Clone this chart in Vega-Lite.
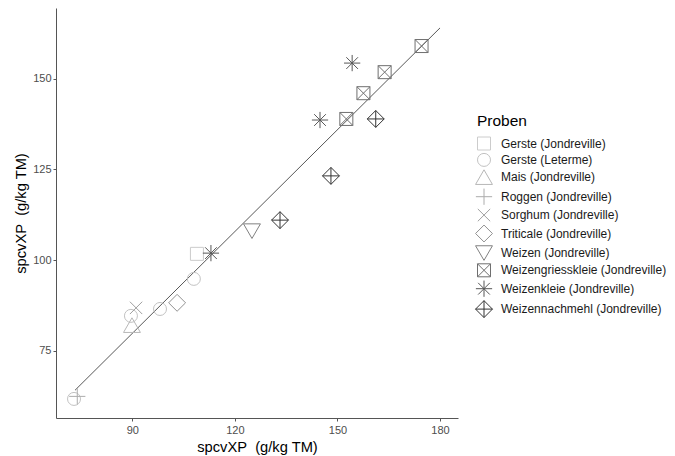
{
  "$schema": "https://vega.github.io/schema/vega-lite/v6.json",
  "width": 402,
  "height": 410,
  "autosize": {"type": "none"},
  "padding": {"left": 56, "top": 8, "right": 217, "bottom": 38},
  "background": "white",
  "config": {
    "view": {"stroke": null},
    "font": "Liberation Sans",
    "axis": {
      "grid": false,
      "domainColor": "#555555",
      "domainWidth": 1,
      "tickColor": "#555555",
      "tickSize": 3,
      "labelPadding": 2,
      "labelFontSize": 11,
      "labelColor": "#4d4d4d",
      "labelFont": "Liberation Sans",
      "titleFont": "Liberation Sans",
      "titleFontSize": 14.7,
      "titleFontWeight": "normal",
      "titleColor": "#000000"
    },
    "legend": {
      "titleFont": "Liberation Sans",
      "labelFont": "Liberation Sans"
    }
  },
  "datasets": {
    "pts": [
      {"x": 108.9, "y": 101.7, "Proben": "Gerste (Jondreville)"},
      {"x": 72.95, "y": 61.7, "Proben": "Gerste (Leterme)"},
      {"x": 89.6, "y": 84.6, "Proben": "Gerste (Leterme)"},
      {"x": 98.1, "y": 86.5, "Proben": "Gerste (Leterme)"},
      {"x": 108.0, "y": 94.8, "Proben": "Gerste (Leterme)"},
      {"x": 89.9, "y": 82.0, "Proben": "Mais (Jondreville)"},
      {"x": 73.9, "y": 62.4, "Proben": "Roggen (Jondreville)"},
      {"x": 91.1, "y": 86.8, "Proben": "Sorghum (Jondreville)"},
      {"x": 103.1, "y": 88.2, "Proben": "Triticale (Jondreville)"},
      {"x": 125.0, "y": 108.0, "Proben": "Weizen (Jondreville)"},
      {"x": 152.6, "y": 138.9, "Proben": "Weizengriesskleie (Jondreville)"},
      {"x": 157.6, "y": 146.0, "Proben": "Weizengriesskleie (Jondreville)"},
      {"x": 163.8, "y": 151.8, "Proben": "Weizengriesskleie (Jondreville)"},
      {"x": 174.6, "y": 159.0, "Proben": "Weizengriesskleie (Jondreville)"},
      {"x": 113.0, "y": 101.9, "Proben": "Weizenkleie (Jondreville)"},
      {"x": 144.9, "y": 138.6, "Proben": "Weizenkleie (Jondreville)"},
      {"x": 154.3, "y": 154.3, "Proben": "Weizenkleie (Jondreville)"},
      {"x": 133.2, "y": 111.0, "Proben": "Weizennachmehl (Jondreville)"},
      {"x": 148.1, "y": 123.2, "Proben": "Weizennachmehl (Jondreville)"},
      {"x": 161.2, "y": 138.9, "Proben": "Weizennachmehl (Jondreville)"}
    ],
    "fit": [
      {"x": 73.25, "y": 64.1},
      {"x": 180.0, "y": 164.0}
    ]
  },
  "layer": [
    {
      "data": {"name": "fit"},
      "mark": {"type": "line", "color": "#444444", "strokeWidth": 0.9},
      "encoding": {
        "x": {"field": "x", "type": "quantitative"},
        "y": {"field": "y", "type": "quantitative"}
      }
    },
    {
      "data": {"name": "pts"},
      "mark": {"type": "point", "filled": false, "strokeWidth": 1, "size": 169, "opacity": 1},
      "encoding": {
        "x": {
          "field": "x",
          "type": "quantitative",
          "scale": {"domain": [67.68, 185.26], "nice": false, "zero": false},
          "axis": {"values": [90, 120, 150, 180], "title": "spcvXP\u00a0 (g/kg TM)", "titlePadding": 4, "labelPadding": 3}
        },
        "y": {
          "field": "y",
          "type": "quantitative",
          "scale": {"domain": [56.44, 169.49], "nice": false, "zero": false},
          "axis": {"values": [75, 100, 125, 150], "title": "spcvXP\u00a0 (g/kg TM)", "titlePadding": 4}
        },
        "shape": {
          "field": "Proben",
          "type": "nominal",
          "scale": {
            "domain": ["Gerste (Jondreville)", "Gerste (Leterme)", "Mais (Jondreville)", "Roggen (Jondreville)", "Sorghum (Jondreville)", "Triticale (Jondreville)", "Weizen (Jondreville)", "Weizengriesskleie (Jondreville)", "Weizenkleie (Jondreville)", "Weizennachmehl (Jondreville)"],
            "range": [
              "square",
              "circle",
              "M0,-1.15L1.3,1.1L-1.3,1.1Z",
              "M-1.25,0H1.25M0,-1.25V1.25",
              "M-0.95,-0.95L0.95,0.95M-0.95,0.95L0.95,-0.95",
              "M0,-1.3L1.3,0L0,1.3L-1.3,0Z",
              "M0,1.15L1.3,-1.1L-1.3,-1.1Z",
              "M-1,-1H1V1H-1ZM-1,-1L1,1M-1,1L1,-1",
              "M-1.25,0H1.25M0,-1.25V1.25M-0.9,-0.9L0.9,0.9M-0.9,0.9L0.9,-0.9",
              "M0,-1.3L1.3,0L0,1.3L-1.3,0ZM0,-1.3V1.3M-1.3,0H1.3"
            ]
          },
          "legend": {
            "title": "Proben",
            "orient": "none",
            "legendX": 421,
            "legendY": 106,
            "padding": 0,
            "titleFontSize": 15.5,
            "titleFontWeight": "normal",
            "titleColor": "#000000",
            "titlePadding": 7,
            "labelFontSize": 12,
            "labelColor": "#1a1a1a",
            "labelOffset": 10,
            "labelLimit": 400,
            "rowPadding": -1.6,
            "symbolSize": 169,
            "symbolStrokeWidth": 1
          }
        },
        "color": {
          "field": "Proben",
          "type": "nominal",
          "scale": {
            "domain": ["Gerste (Jondreville)", "Gerste (Leterme)", "Mais (Jondreville)", "Roggen (Jondreville)", "Sorghum (Jondreville)", "Triticale (Jondreville)", "Weizen (Jondreville)", "Weizengriesskleie (Jondreville)", "Weizenkleie (Jondreville)", "Weizennachmehl (Jondreville)"],
            "range": ["#cccccc", "#c2c2c2", "#b7b7b7", "#acacac", "#9f9f9f", "#919191", "#818181", "#6f6f6f", "#575757", "#333333"]
          },
          "legend": {
            "title": "Proben",
            "orient": "none",
            "legendX": 421,
            "legendY": 106,
            "padding": 0,
            "titleFontSize": 15.5,
            "titleFontWeight": "normal",
            "titleColor": "#000000",
            "titlePadding": 7,
            "labelFontSize": 12,
            "labelColor": "#1a1a1a",
            "labelOffset": 10,
            "labelLimit": 400,
            "rowPadding": -1.6,
            "symbolSize": 169,
            "symbolStrokeWidth": 1
          }
        }
      }
    }
  ]
}
